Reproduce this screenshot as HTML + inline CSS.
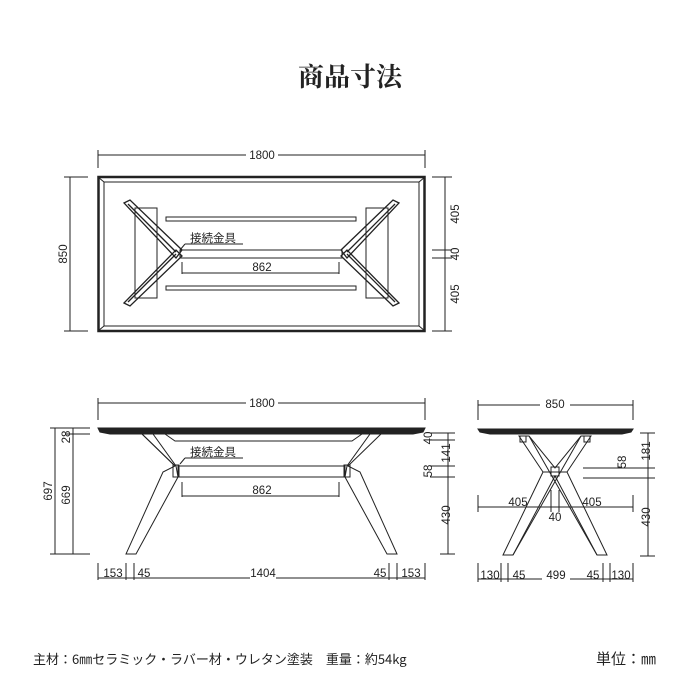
<!DOCTYPE html>
<html><head><meta charset="utf-8"><style>
html,body{margin:0;padding:0;background:#fff;width:700px;height:700px;overflow:hidden}
svg{display:block}
text{font-family:"Liberation Sans","Noto Sans CJK JP",sans-serif;fill:#222}
</style></head><body>
<svg width="700" height="700" viewBox="0 0 700 700" xmlns="http://www.w3.org/2000/svg">
<text x="350" y="86" text-anchor="middle" font-size="26" font-weight="bold" style="font-family:'Noto Serif CJK SC','Liberation Serif',serif">商品寸法</text>

<g stroke="#222" fill="none" stroke-width="1">
<!-- TOP VIEW -->
<line x1="98" y1="155" x2="425" y2="155"/><line x1="98" y1="150" x2="98" y2="168"/><line x1="425" y1="150" x2="425" y2="168"/>
<rect x="98.5" y="177" width="326" height="154" stroke-width="2.5"/>
<rect x="104" y="182" width="315" height="144"/>
<line x1="98" y1="177" x2="104" y2="182"/><line x1="425" y1="177" x2="419" y2="182"/><line x1="98" y1="331" x2="104" y2="326"/><line x1="425" y1="331" x2="419" y2="326"/>
<line x1="70" y1="177" x2="70" y2="331"/><line x1="64" y1="177" x2="88" y2="177"/><line x1="64" y1="331" x2="88" y2="331"/>
<line x1="445" y1="177" x2="445" y2="331"/><line x1="432" y1="177" x2="452" y2="177"/><line x1="432" y1="331" x2="452" y2="331"/>
<line x1="432" y1="250" x2="452" y2="250"/><line x1="432" y1="258" x2="452" y2="258"/>
<rect x="166" y="217" width="190" height="4"/>
<rect x="166" y="286" width="190" height="4"/>
<rect x="180" y="250" width="162" height="8"/>
<line x1="182" y1="262" x2="182" y2="274"/><line x1="339" y1="262" x2="339" y2="274"/><line x1="182" y1="273" x2="339" y2="273"/>
<rect x="135" y="208" width="22" height="90"/>
<rect x="366" y="208" width="22" height="90"/>
<g stroke-width="1.3">
<polygon points="124,203 130,200 182,250 176,258"/>
<polygon points="124,303 130,306 182,256 176,250"/>
<polygon points="399,203 393,200 341,250 347,258"/>
<polygon points="399,303 393,306 341,256 347,250"/>
<line x1="128" y1="204" x2="176" y2="252"/><line x1="128" y1="302" x2="176" y2="254"/>
<line x1="395" y1="204" x2="347" y2="252"/><line x1="395" y1="302" x2="347" y2="254"/>
</g>
<line x1="185" y1="244" x2="243" y2="244"/><line x1="185" y1="244" x2="180" y2="250"/>

<!-- SIDE VIEW -->
<line x1="98" y1="403" x2="425" y2="403"/><line x1="98" y1="398" x2="98" y2="420"/><line x1="425" y1="398" x2="425" y2="420"/>
<polygon points="98,428 425,428 423,432 413,434 110,434 100,432" fill="#222"/>
<polyline points="165,434 175,441 352,441 362,434"/>
<polygon points="142,434 153,434 176,466 178,477 136,554 126,554 163,472 175,466"/>
<polygon points="381,434 370,434 347,466 345,477 387,554 397,554 360,472 348,466"/>
<polyline points="142,434 175,466"/>
<rect x="178" y="466" width="167" height="11"/>
<rect x="173" y="465" width="6" height="12"/><rect x="344" y="465" width="6" height="12"/>
<line x1="182" y1="482" x2="182" y2="497"/><line x1="339" y1="482" x2="339" y2="497"/><line x1="182" y1="496" x2="339" y2="496"/>
<line x1="185" y1="458" x2="243" y2="458"/><line x1="185" y1="458" x2="180" y2="464"/>
<line x1="55" y1="428" x2="55" y2="554"/><line x1="73" y1="428" x2="73" y2="554"/>
<line x1="50" y1="428" x2="90" y2="428"/><line x1="65" y1="434" x2="90" y2="434"/><line x1="50" y1="554" x2="90" y2="554"/>
<line x1="448" y1="433" x2="448" y2="554"/>
<line x1="430" y1="433" x2="455" y2="433"/><line x1="430" y1="440" x2="455" y2="440"/><line x1="430" y1="466" x2="455" y2="466"/><line x1="430" y1="477" x2="455" y2="477"/><line x1="440" y1="554" x2="455" y2="554"/>
<line x1="98" y1="563" x2="98" y2="580"/><line x1="126" y1="563" x2="126" y2="580"/><line x1="134" y1="563" x2="134" y2="580"/>
<line x1="389" y1="563" x2="389" y2="580"/><line x1="397" y1="563" x2="397" y2="580"/><line x1="425" y1="563" x2="425" y2="580"/>
<line x1="98" y1="578" x2="425" y2="578"/>

<!-- END VIEW -->
<line x1="478" y1="405" x2="633" y2="405"/><line x1="478" y1="400" x2="478" y2="420"/><line x1="633" y1="400" x2="633" y2="420"/>
<polygon points="478,429 633,429 631,432 622,434 490,434 480,432" fill="#222"/>
<polygon points="519,436 529,436 555,468 581,436 591,436 567,472 607,555 597,555 555,476 513,555 503,555 543,472"/>
<line x1="529" y1="436" x2="597" y2="555"/><line x1="581" y1="436" x2="513" y2="555"/>
<line x1="543" y1="472" x2="567" y2="472"/>
<rect x="551" y="467" width="8" height="9"/>
<rect x="520" y="436" width="6" height="6"/><rect x="584" y="436" width="6" height="6"/>
<line x1="648" y1="433" x2="648" y2="556"/>
<line x1="640" y1="433" x2="655" y2="433"/><line x1="583" y1="468" x2="655" y2="468"/><line x1="583" y1="478" x2="655" y2="478"/><line x1="640" y1="556" x2="655" y2="556"/>
<line x1="478" y1="507" x2="633" y2="507"/><line x1="478" y1="495" x2="478" y2="512"/><line x1="633" y1="495" x2="633" y2="512"/>
<line x1="551" y1="490" x2="551" y2="512"/><line x1="559" y1="490" x2="559" y2="512"/>
<line x1="478" y1="563" x2="478" y2="582"/><line x1="501" y1="563" x2="501" y2="582"/><line x1="508" y1="563" x2="508" y2="582"/>
<line x1="603" y1="563" x2="603" y2="582"/><line x1="610" y1="563" x2="610" y2="582"/><line x1="633" y1="563" x2="633" y2="582"/>
<line x1="478" y1="579" x2="633" y2="579"/>
</g>

<g font-size="11.5">
<rect x="246" y="148" width="32" height="12" fill="#fff"/>
<text x="262" y="159" text-anchor="middle">1800</text>
<text transform="translate(67,254) rotate(-90)" text-anchor="middle">850</text>
<text transform="translate(459,214) rotate(-90)" text-anchor="middle">405</text>
<text transform="translate(459,254) rotate(-90)" text-anchor="middle">40</text>
<text transform="translate(459,294) rotate(-90)" text-anchor="middle">405</text>
<text x="262" y="271" text-anchor="middle">862</text>
<text x="190" y="242" font-size="11.5">接続金具</text>

<rect x="246" y="396" width="32" height="12" fill="#fff"/>
<text x="262" y="407" text-anchor="middle">1800</text>
<text transform="translate(52,491) rotate(-90)" text-anchor="middle">697</text>
<text transform="translate(70,495) rotate(-90)" text-anchor="middle">669</text>
<text transform="translate(70,437) rotate(-90)" text-anchor="middle">28</text>
<text transform="translate(432,438) rotate(-90)" text-anchor="middle">40</text>
<text transform="translate(450,453) rotate(-90)" text-anchor="middle">141</text>
<text transform="translate(432,471) rotate(-90)" text-anchor="middle">58</text>
<text transform="translate(450,515) rotate(-90)" text-anchor="middle">430</text>
<text x="262" y="494" text-anchor="middle">862</text>
<text x="190" y="456" font-size="11.5">接続金具</text>
<text x="113" y="577" text-anchor="middle">153</text>
<text x="144" y="577" text-anchor="middle">45</text>
<rect x="250" y="566" width="26" height="14" fill="#fff"/>
<text x="263" y="577" text-anchor="middle">1404</text>
<text x="380" y="577" text-anchor="middle">45</text>
<text x="411" y="577" text-anchor="middle">153</text>

<rect x="540" y="398" width="30" height="12" fill="#fff"/>
<text x="555" y="408" text-anchor="middle">850</text>
<text transform="translate(650,451) rotate(-90)" text-anchor="middle">181</text>
<text transform="translate(626,462) rotate(-90)" text-anchor="middle">58</text>
<text transform="translate(650,517) rotate(-90)" text-anchor="middle">430</text>
<text x="518" y="506" text-anchor="middle">405</text>
<text x="592" y="506" text-anchor="middle">405</text>
<text x="555" y="521" text-anchor="middle">40</text>
<text x="490" y="579" text-anchor="middle">130</text>
<text x="519" y="579" text-anchor="middle">45</text>
<rect x="542" y="568" width="28" height="14" fill="#fff"/>
<text x="556" y="579" text-anchor="middle">499</text>
<text x="593" y="579" text-anchor="middle">45</text>
<text x="621" y="579" text-anchor="middle">130</text>
</g>

<text x="33" y="664" font-size="13" style="font-family:'Noto Sans CJK JP',sans-serif">主材：6㎜セラミック・ラバー材・ウレタン塗装　重量：約54kg</text>
<text x="596" y="664" font-size="15" style="font-family:'Noto Sans CJK JP',sans-serif">単位：㎜</text>
</svg>
</body></html>
